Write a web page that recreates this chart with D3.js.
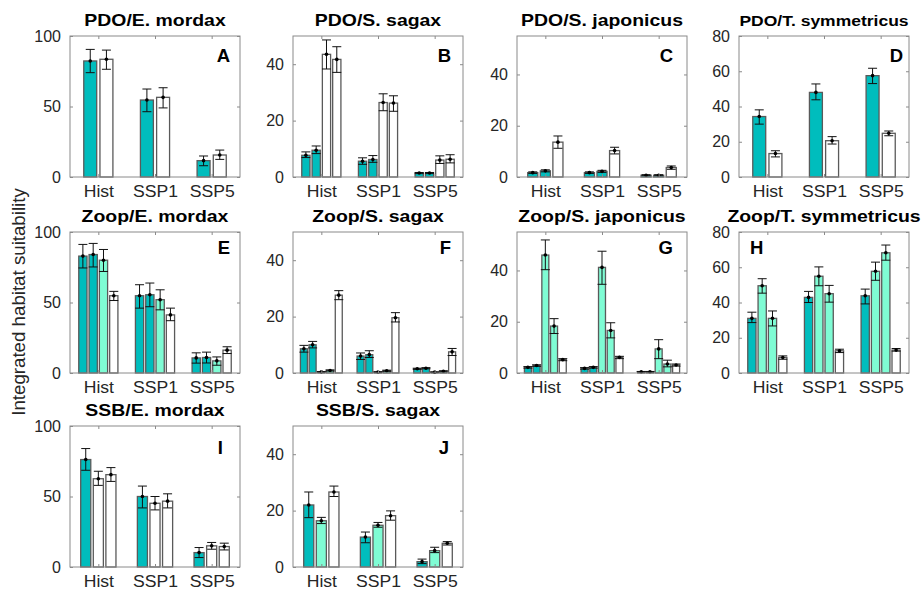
<!DOCTYPE html>
<html><head><meta charset="utf-8">
<script src="https://cdn.jsdelivr.net/npm/d3@7"></script>
<style>
body{margin:0;background:#fff;}
svg{display:block;font-family:"Liberation Sans",Arial,Helvetica,sans-serif;}
</style></head>
<body><svg id="c" width="922" height="591"></svg>
<script>
// ---------------- DATA ----------------
const groups = ["Hist", "SSP1", "SSP5"];
const yLabel = "Integrated habitat suitability";

const titles = ["PDO/E. mordax","PDO/S. sagax","PDO/S. japonicus","PDO/T. symmetricus",
  "Zoop/E. mordax","Zoop/S. sagax","Zoop/S. japonicus","Zoop/T. symmetricus",
  "SSB/E. mordax","SSB/S. sagax"];
const letters = ["A","B","C","D","E","F","G","H","I","J"];
const yMax = [100,50,55,80,100,50,55,80,100,50];
const yTicks = [[0,50,100],[0,20,40],[0,20,40],[0,20,40,60,80],
  [0,50,100],[0,20,40],[0,20,40],[0,20,40,60,80],[0,50,100],[0,20,40]];

// series kinds per panel: t = teal, a = aquamarine, w = white
const kindsA = ["t","w"];
const meanA = [[82.3,83.5],[54.6,56.5],[11.6,15.6]];
const hiA   = [[90.5,90.0],[62.4,63.3],[14.9,19.1]];
const loA   = [[74.0,76.4],[46.3,49.0],[8.0,12.5]];

const kindsB = ["t","t","w","w"];
const meanB = [[7.7,9.5,43.5,41.7],[5.6,6.2,26.4,26.2],[1.4,1.4,6.0,6.3]];
const hiB   = [[8.9,11.0,48.6,46.2],[6.8,7.6,29.5,28.8],[1.6,1.6,7.5,7.9]];
const loB   = [[6.9,8.3,38.3,37.1],[4.5,5.2,23.5,23.3],[1.2,1.2,4.8,5.0]];

const kindsC = ["t","t","w"];
const meanC = [[1.7,2.4,13.6],[1.7,2.2,10.3],[0.7,0.7,3.7]];
const hiC   = [[2.0,2.8,16.0],[2.0,2.6,11.6],[0.9,0.9,4.3]];
const loC   = [[1.4,2.0,11.2],[1.4,1.8,9.0],[0.5,0.5,3.0]];

const kindsD = ["t","w"];
const meanD = [[34.3,13.3],[48.0,20.6],[57.5,24.8]];
const hiD   = [[38.1,14.9],[52.8,22.9],[61.7,26.1]];
const loD   = [[30.0,11.4],[43.8,18.7],[53.0,23.4]];

const kindsE = ["t","t","a","w"];
const meanE = [[82.9,84.0,80.0,54.8],[54.8,55.5,52.0,41.2],[10.7,11.0,8.6,16.2]];
const hiE   = [[91.2,91.9,87.6,57.9],[62.6,63.8,59.0,46.0],[14.3,14.8,11.4,18.6]];
const loE   = [[74.5,75.2,72.0,51.4],[46.0,47.0,44.8,37.1],[7.0,7.1,5.5,13.8]];

const kindsF = ["t","t","a","a","w"];
const meanF = [[8.6,10.0,0.4,0.9,27.6],[6.0,6.5,0.35,0.8,19.6],[1.5,1.7,0.3,0.6,7.5]];
const hiF   = [[9.8,11.2,0.5,1.1,29.2],[7.1,7.9,0.45,1.0,21.4],[1.7,1.9,0.4,0.8,8.7]];
const loF   = [[7.4,8.9,0.3,0.7,26.0],[4.8,5.5,0.25,0.6,18.1],[1.3,1.5,0.2,0.4,6.2]];

const kindsG = ["t","t","a","a","w"];
const meanG = [[2.2,2.9,46.0,18.3,5.2],[1.8,2.2,41.2,16.6,6.1],[0.5,0.5,9.4,3.5,3.1]];
const hiG   = [[2.5,3.2,51.9,21.2,5.6],[2.1,2.5,47.5,19.6,6.5],[0.6,0.6,13.0,5.0,3.5]];
const loG   = [[1.9,2.6,40.3,15.4,4.8],[1.5,1.9,34.6,13.7,5.6],[0.4,0.4,5.6,2.4,2.7]];

const kindsH = ["t","a","a","w"];
const meanH = [[31.0,49.5,31.0,8.8],[42.9,54.9,45.0,12.6],[43.8,57.7,68.2,13.0]];
const hiH   = [[34.5,53.5,35.2,9.7],[46.3,60.2,49.7,13.5],[47.6,62.9,72.6,13.9]];
const loH   = [[28.6,45.3,26.7,7.8],[40.0,49.5,40.2,11.6],[39.2,52.6,64.0,12.4]];

const kindsI = ["t","w","w"];
const meanI = [[76.2,62.6,65.5],[50.0,45.2,46.7],[10.2,15.0,14.5]];
const hiI   = [[84.0,67.9,70.5],[57.4,50.0,51.9],[13.8,17.4,16.9]];
const loI   = [[68.6,57.9,60.7],[41.9,40.5,41.9],[6.7,12.6,12.1]];

const kindsJ = ["t","a","w"];
const meanJ = [[22.0,16.4,26.6],[10.6,14.8,18.2],[1.9,5.8,8.4]];
const hiJ   = [[26.6,17.6,28.7],[12.4,15.8,19.9],[2.8,7.0,9.0]];
const loJ   = [[17.5,15.4,25.0],[8.6,14.1,16.6],[1.2,5.1,7.8]];

const panelKinds = [kindsA,kindsB,kindsC,kindsD,kindsE,kindsF,kindsG,kindsH,kindsI,kindsJ];
const panelMean  = [meanA,meanB,meanC,meanD,meanE,meanF,meanG,meanH,meanI,meanJ];
const panelHi    = [hiA,hiB,hiC,hiD,hiE,hiF,hiG,hiH,hiI,hiJ];
const panelLo    = [loA,loB,loC,loD,loE,loF,loG,loH,loI,loJ];

// ---------------- LAYOUT / STYLE ----------------
const colLeft = [70, 293, 517, 739];
const rowTop = [36, 232, 426];
const plotW = 170, plotH = 141;
const letterRowOff = [26, 22, 28];
const letterX = [230, 451, 673, 903, 230, 451, 673, 750, 223, 449];
const letterAnchor = ["end","end","end","end","end","end","end","start","end","end"];
const titleSize = [17.2,17.2,17.2,15.5,17.2,17.2,17.2,17.2,17.2,17.2];
const stretch = 1.13;
const fill = d3.scaleOrdinal().domain(["t","a","w"]).range(["#00bdbd","#7ffcd4","#ffffff"]);
const boxColor = "#8a8a8a";
const textColor = "#262626";

const svg = d3.select("#c");

panelMean.forEach((mean, p) => {
  const col = p % 4, row = Math.floor(p / 4);
  const x0 = colLeft[col], y0 = rowTop[row];
  const g = svg.append("g").attr("transform", `translate(${x0},${y0})`);
  const kinds = panelKinds[p];
  const n = kinds.length;

  const xg = d3.scaleBand().domain(groups).range([0, plotW]).paddingInner(0).paddingOuter(0);
  const gw = Math.min(0.8, n / (n + 1.5)) * xg.bandwidth();
  const xs = d3.scaleBand().domain(d3.range(n)).range([(xg.bandwidth() - gw) / 2, (xg.bandwidth() + gw) / 2])
    .paddingInner(0.2).paddingOuter(0.1);
  const y = d3.scaleLinear().domain([0, yMax[p]]).range([plotH, 0]);

  // bars
  groups.forEach((grp, gi) => {
    const gg = g.append("g").attr("transform", `translate(${xg(grp)},0)`);
    kinds.forEach((k, si) => {
      const v = mean[gi][si];
      gg.append("rect")
        .attr("x", xs(si)).attr("width", xs.bandwidth())
        .attr("y", y(v)).attr("height", y(0) - y(v))
        .attr("fill", fill(k)).attr("stroke", "#5a5a5a").attr("stroke-width", 1.3);
    });
    kinds.forEach((k, si) => {
      const cx = xs(si) + xs.bandwidth() / 2;
      const hi = panelHi[p][gi][si], lo = panelLo[p][gi][si], v = mean[gi][si];
      const cap = 4.5;
      const path = `M${cx},${y(lo)}V${y(hi)}M${cx - cap},${y(hi)}H${cx + cap}M${cx - cap},${y(lo)}H${cx + cap}`;
      gg.append("path").attr("d", path).attr("stroke", "#111").attr("stroke-width", 1).attr("fill", "none");
      gg.append("circle").attr("cx", cx).attr("cy", y(v)).attr("r", 1.8).attr("fill", "#000");
    });
  });

  // axes
  const xAxisScale = d3.scalePoint().domain(groups).range([xg.bandwidth() / 2, plotW - xg.bandwidth() / 2]);
  const axB = g.append("g").attr("transform", `translate(0,${plotH})`)
    .call(d3.axisBottom(xAxisScale).tickSizeInner(-3).tickSizeOuter(0).tickPadding(9));
  const axT = g.append("g").call(d3.axisTop(xAxisScale).tickSizeInner(-3).tickSizeOuter(0).tickFormat(""));
  const axL = g.append("g").call(d3.axisLeft(y).tickValues(yTicks[p]).tickSizeInner(-3).tickSizeOuter(0).tickPadding(9));
  const axR = g.append("g").attr("transform", `translate(${plotW},0)`)
    .call(d3.axisRight(y).tickValues(yTicks[p]).tickSizeInner(-3).tickSizeOuter(0).tickFormat(""));
  [axB, axT, axL, axR].forEach(a => {
    a.select(".domain").remove();
    a.selectAll(".tick line").attr("stroke", boxColor);
    a.selectAll("text").attr("fill", textColor)
      .style("font-family", '"Liberation Sans",Arial,Helvetica,sans-serif');
  });
  axB.selectAll("text").style("font-size", "15.6px").attr("transform", `scale(${stretch},1)`);
  axL.selectAll("text").style("font-size", "16px");
  g.append("rect").attr("x", 0).attr("y", 0).attr("width", plotW).attr("height", plotH)
    .attr("fill", "none").attr("stroke", boxColor).attr("stroke-width", 1);

  // title
  g.append("text").attr("transform", `translate(${plotW / 2},-10) scale(${stretch},1)`)
    .attr("text-anchor", "middle")
    .attr("font-weight", "bold").attr("font-size", titleSize[p]).attr("fill", "#000").text(titles[p]);
  // panel letter
  g.append("text").attr("x", letterX[p] - x0).attr("y", letterRowOff[row])
    .attr("text-anchor", letterAnchor[p]).attr("font-weight", "bold").attr("font-size", 18.5)
    .attr("fill", "#000").text(letters[p]);
});

svg.append("text").attr("transform", "translate(25,302) rotate(-90)").attr("text-anchor", "middle")
  .attr("font-size", 18.7).attr("fill", textColor).text(yLabel);
</script></body></html>
